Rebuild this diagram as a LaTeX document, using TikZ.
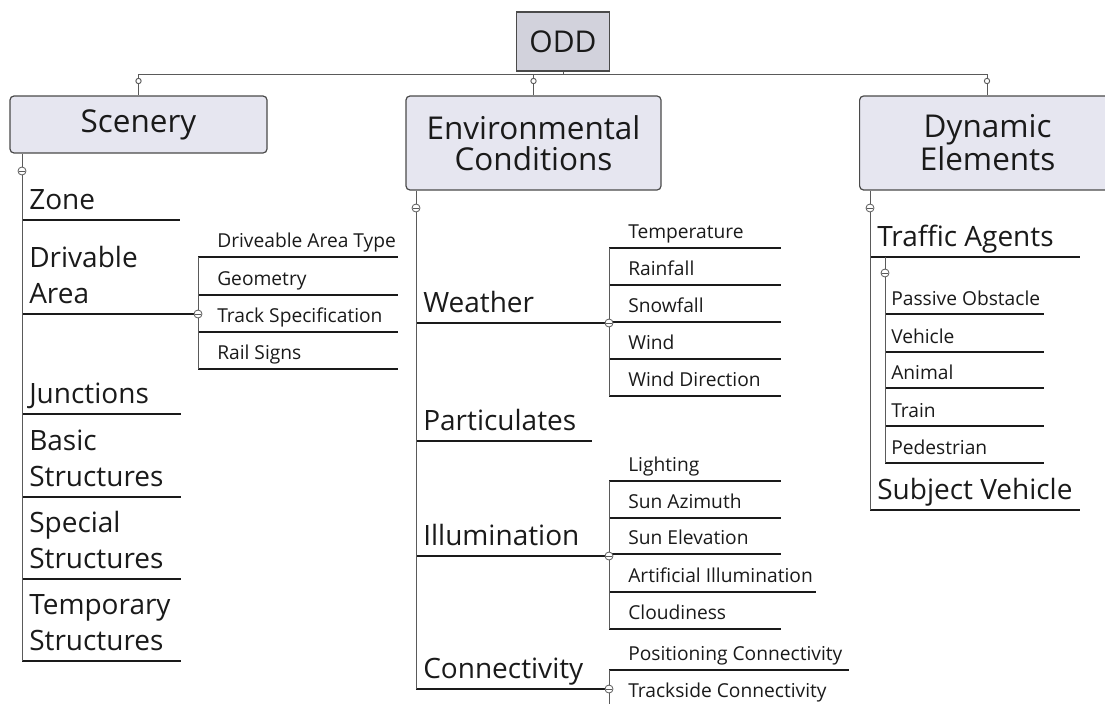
\documentclass[tikz,border=0pt]{standalone}
\usepackage{fontspec}
\setmainfont{Open Sans}
\usetikzlibrary{calc}
\definecolor{boxfill}{HTML}{E6E6F0}
\definecolor{rootfill}{HTML}{D2D2DC}
\definecolor{edge}{HTML}{4A4A4A}
\definecolor{spinec}{HTML}{5A5A5A}
\definecolor{ink}{HTML}{1A1A1A}

% leaf entry: style, name, text x, baseline y, spine x, underline y, underline end x, text
\newcommand\entry[8]{%
  \node[#1] (#2) at (#3,#4) {#8};
  \coordinate (#2-l) at (#5,#6);
  \coordinate (#2-r) at (#7,#6);
  \draw[uline] (#2-l) -- (#2-r);}
\newcommand\twoline[2]{\begin{tabular}[b]{@{}l@{}}#1\\#2\end{tabular}}

\begin{document}
\begin{tikzpicture}[x=0.75pt,y=-0.75pt,
  every node/.style={text=ink},
  root/.style={draw=edge, line width=1.1pt, fill=rootfill, minimum width=70pt,
    minimum height=44.25pt, inner sep=0, font=\fontsize{22.5}{27}\selectfont},
  group/.style={draw=edge, line width=0.9pt, fill=boxfill, rounded corners=3pt,
    inner sep=0, align=center, font=\fontsize{23.6}{23.25}\selectfont},
  mainitem/.style={anchor=base west, inner sep=0, font=\fontsize{21}{27}\selectfont},
  subitem/.style={anchor=base west, inner sep=0, font=\fontsize{14.4}{18}\selectfont},
  spine/.style={draw=spinec, line width=0.75pt},
  uline/.style={draw=ink, line width=0.8pt},
  collapse/.style={circle, draw=spinec, fill=white, line width=0.6pt, inner sep=0,
    minimum size=6pt, path picture={\draw[spinec, line width=0.6pt]
      ([xshift=-2pt]path picture bounding box.center) --
      ([xshift=2pt]path picture bounding box.center);}},
  joint/.style={circle, draw=spinec, fill=white, line width=0.7pt, inner sep=0,
    minimum size=4pt}]

\useasboundingbox (0,0) rectangle (1105,703);

% root and the three groups
\node[root] (odd) at (563,41.5) {ODD};
\node[group, minimum width=192.75pt, minimum height=42.75pt] (scenery) at (138.5,124.5) {Scenery};
\node[group, minimum width=191.25pt, minimum height=70.5pt] (env) at (533.5,143) {Environmental\\Conditions};
\node[group, minimum width=192pt, minimum height=70.5pt, anchor=west] (dyn) at (859,143) {Dynamic\\Elements};

% bus from the root to the groups
\coordinate (bus-l) at (138.5,74);
\coordinate (bus-m) at (533.5,74);
\coordinate (bus-r) at (987,74);
\draw[spine] (odd.south) -- (odd.south |- bus-l);
\draw[spine] (bus-l) -- (bus-r);
\draw[spine] (bus-l) -- (bus-l |- scenery.north);
\draw[spine] (bus-m) -- (bus-m |- env.north);
\draw[spine] (bus-r) -- (bus-r |- dyn.north);
\node[joint] (j-sc) at (138.5,81) {};
\node[joint] (j-env) at (533.5,81) {};
\node[joint] (j-dyn) at (987,81) {};

% ---------------- Scenery ----------------
\entry{mainitem}{zone}{29}{209}{22}{220}{180}{Zone}
\entry{mainitem}{drivable}{29}{303}{22}{314}{198}{\twoline{Drivable}{Area}}
\entry{mainitem}{junctions}{29}{403}{22}{414}{181}{Junctions}
\entry{mainitem}{basic}{29}{486}{22}{497}{181}{\twoline{Basic}{Structures}}
\entry{mainitem}{special}{29}{568}{22}{579}{181}{\twoline{Special}{Structures}}
\entry{mainitem}{temporary}{29}{650}{22}{661}{181}{\twoline{Temporary}{Structures}}
\draw[spine] (scenery.south -| zone-l) -- (temporary-l);

\entry{subitem}{dat}{217}{247}{198}{257}{398}{Driveable Area Type}
\entry{subitem}{geometry}{217}{285}{198}{295}{398}{Geometry}
\entry{subitem}{track}{217}{322}{198}{332}{398}{Track Specification}
\entry{subitem}{rail}{217}{359}{198}{369}{398}{Rail Signs}
\draw[spine] (dat-l) -- (rail-l);

\node[collapse] (sc-c) at (22,171) {};
\node[collapse] (da-c) at (drivable-r) {};

% ---------------- Environmental Conditions ----------------
\entry{mainitem}{weather}{423}{312}{416}{323}{609}{Weather}
\entry{mainitem}{particulates}{423}{430}{416}{441}{592}{Particulates}
\entry{mainitem}{illumination}{423}{545}{416}{556}{609}{Illumination}
\entry{mainitem}{connectivity}{423}{678}{416}{689}{609}{Connectivity}
\draw[spine] (env.south -| weather-l) -- (connectivity-l);

\entry{subitem}{temperature}{628}{238}{609}{248}{781}{Temperature}
\entry{subitem}{rainfall}{628}{275}{609}{285}{781}{Rainfall}
\entry{subitem}{snowfall}{628}{312}{609}{322}{781}{Snowfall}
\entry{subitem}{wind}{628}{349}{609}{359}{781}{Wind}
\entry{subitem}{winddir}{628}{386}{609}{396}{781}{Wind Direction}
\draw[spine] (temperature-l) -- (winddir-l);

\entry{subitem}{lighting}{628}{471}{609}{481}{781}{Lighting}
\entry{subitem}{sunaz}{628}{508}{609}{518}{781}{Sun Azimuth}
\entry{subitem}{sunel}{628}{544}{609}{554}{781}{Sun Elevation}
\entry{subitem}{artificial}{628}{582}{609}{592}{816}{Artificial Illumination}
\entry{subitem}{cloudiness}{628}{619}{609}{629}{781}{Cloudiness}
\draw[spine] (lighting-l) -- (cloudiness-l);

\entry{subitem}{positioning}{628}{660}{609}{670}{849}{Positioning Connectivity}
\node[subitem] (trackside) at (628,697) {Trackside Connectivity};
\coordinate (conn-end) at (609,712);
\draw[spine] (positioning-l) -- (conn-end);

\node[collapse] (env-c) at (416,208) {};
\node[collapse] (we-c) at (weather-r) {};
\node[collapse] (il-c) at (illumination-r) {};
\node[collapse] (co-c) at (connectivity-r) {};

% ---------------- Dynamic Elements ----------------
\entry{mainitem}{traffic}{877}{246}{870}{257}{1080}{Traffic Agents}
\entry{mainitem}{subject}{877}{499}{870}{510}{1080}{Subject Vehicle}
\draw[spine] (dyn.south -| traffic-l) -- (subject-l);

\entry{subitem}{passive}{891}{305}{885}{314}{1044}{Passive Obstacle}
\entry{subitem}{vehicle}{891}{343}{885}{352}{1044}{Vehicle}
\entry{subitem}{animal}{891}{379}{885}{388}{1044}{Animal}
\entry{subitem}{train}{891}{417}{885}{426}{1044}{Train}
\entry{subitem}{pedestrian}{891}{454}{885}{463}{1044}{Pedestrian}
\coordinate (ta-top) at (885,257);
\draw[spine] (ta-top) -- (pedestrian-l);

\node[collapse] (dyn-c) at (870,208) {};
\node[collapse] (ta-c) at (885,273) {};

\end{tikzpicture}
\end{document}
